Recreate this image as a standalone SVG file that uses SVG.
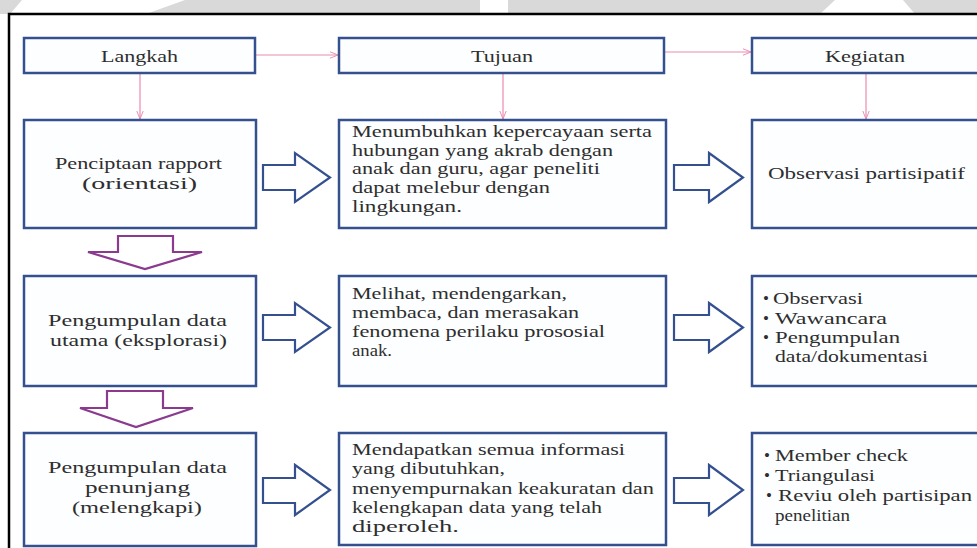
<svg xmlns="http://www.w3.org/2000/svg" width="977" height="548" viewBox="0 0 977 548">
<defs>
<style>
.box{fill:#fdfeff;stroke:#34508f;stroke-width:2.5}
.t{font-family:"Liberation Serif","Times New Roman",serif;font-size:17px;fill:#2e2e2e}
.conn{stroke:#e98ab0;stroke-width:1.2;fill:none}
.barr{fill:#ffffff;stroke:#34508f;stroke-width:2.2;stroke-linejoin:miter}
.darr{fill:#ffffff;stroke:#8b3a8e;stroke-width:2.2;stroke-linejoin:miter}
.wm{fill:#d9d9d9}
</style>
<marker id="ah" viewBox="0 0 10 10" refX="10" refY="5" markerWidth="8" markerHeight="8" orient="auto" markerUnits="userSpaceOnUse">
<path d="M0,1 L10,5 L0,9" fill="none" stroke="#e98ab0" stroke-width="1.2"/>
</marker>
</defs>
<rect x="0" y="0" width="977" height="548" fill="#ffffff"/>
<g id="watermark">
<polygon class="wm" points="0,0 22,0 10,14 0,14"/>
<polygon class="wm" points="185,0 480,0 480,14 146,14"/>
<polygon class="wm" points="508,0 835,0 820,14 508,14"/>
<polygon class="wm" points="903,0 977,0 977,14 915,14"/>
</g>
<rect x="9" y="14" width="1000" height="600" fill="#ffffff" stroke="#000000" stroke-width="2.5"/>

<g id="connectors">
<line class="conn" x1="256" y1="55" x2="338" y2="55" marker-end="url(#ah)"/>
<line class="conn" x1="665" y1="52" x2="751" y2="52" marker-end="url(#ah)"/>
<line class="conn" x1="140" y1="74" x2="140" y2="119" marker-end="url(#ah)"/>
<line class="conn" x1="503" y1="74" x2="503" y2="119" marker-end="url(#ah)"/>
<line class="conn" x1="866" y1="74" x2="866" y2="119" marker-end="url(#ah)"/>
<polygon class="barr" points="263,165 295,165 295,153 330,177.5 295,202 295,190 263,190"/>
<polygon class="barr" points="674,165 709,165 709,153 743,177.5 709,202 709,190 674,190"/>
<polygon class="barr" points="263,315 295,315 295,303 330,327.5 295,352 295,340 263,340"/>
<polygon class="barr" points="674,315 709,315 709,303 743,327.5 709,352 709,340 674,340"/>
<polygon class="barr" points="263,478 295,478 295,465 330,490 295,515 295,503 263,503"/>
<polygon class="barr" points="674,478 709,478 709,465 743,490 709,515 709,503 674,503"/>
<polygon class="darr" points="118,236 173,236 173,252 202,252 145,269 88,252 118,252"/>
<polygon class="darr" points="107,391 163,391 163,408 193,408 136,427 80,408 107,408"/>
</g>

<g id="h-langkah">
<rect class="box" x="24" y="38" width="231" height="35"/>
<text class="t" x="101" y="62" textLength="77" lengthAdjust="spacingAndGlyphs">Langkah</text>
</g>
<g id="h-tujuan">
<rect class="box" x="339" y="38" width="325" height="35"/>
<text class="t" x="471" y="62" textLength="62" lengthAdjust="spacingAndGlyphs">Tujuan</text>
</g>
<g id="h-kegiatan">
<rect class="box" x="752" y="38" width="240" height="35"/>
<text class="t" x="825" y="62" textLength="80" lengthAdjust="spacingAndGlyphs">Kegiatan</text>
</g>

<g id="r1-langkah">
<rect class="box" x="24" y="120" width="232" height="108"/>
<text class="t" x="55" y="169" textLength="167" lengthAdjust="spacingAndGlyphs">Penciptaan rapport</text>
<text class="t" x="82" y="189" textLength="115" lengthAdjust="spacingAndGlyphs">(orientasi)</text>
</g>
<g id="r1-tujuan">
<rect class="box" x="339" y="120" width="327" height="108"/>
<text class="t" x="352" y="137" textLength="300" lengthAdjust="spacingAndGlyphs">Menumbuhkan kepercayaan serta</text>
<text class="t" x="352" y="156" textLength="261" lengthAdjust="spacingAndGlyphs">hubungan yang akrab dengan</text>
<text class="t" x="352" y="174" textLength="248" lengthAdjust="spacingAndGlyphs">anak dan guru, agar peneliti</text>
<text class="t" x="352" y="193" textLength="198" lengthAdjust="spacingAndGlyphs">dapat melebur dengan</text>
<text class="t" x="352" y="212" textLength="110" lengthAdjust="spacingAndGlyphs">lingkungan.</text>
</g>
<g id="r1-kegiatan">
<rect class="box" x="752" y="120" width="240" height="108"/>
<text class="t" x="768" y="179" textLength="197" lengthAdjust="spacingAndGlyphs">Observasi partisipatif</text>
</g>

<g id="r2-langkah">
<rect class="box" x="24" y="276" width="232" height="110"/>
<text class="t" x="48" y="326" textLength="179" lengthAdjust="spacingAndGlyphs">Pengumpulan data</text>
<text class="t" x="50" y="346" textLength="177" lengthAdjust="spacingAndGlyphs">utama (eksplorasi)</text>
</g>
<g id="r2-tujuan">
<rect class="box" x="339" y="276" width="327" height="110"/>
<text class="t" x="352" y="299" textLength="215" lengthAdjust="spacingAndGlyphs">Melihat, mendengarkan,</text>
<text class="t" x="352" y="318" textLength="227" lengthAdjust="spacingAndGlyphs">membaca, dan merasakan</text>
<text class="t" x="352" y="337" textLength="253" lengthAdjust="spacingAndGlyphs">fenomena perilaku prososial</text>
<text class="t" x="352" y="356" textLength="40" lengthAdjust="spacingAndGlyphs">anak.</text>
</g>
<g id="r2-kegiatan">
<rect class="box" x="752" y="276" width="240" height="110"/>
<text class="t" x="763" y="304">•</text>
<text class="t" x="773" y="304" textLength="90" lengthAdjust="spacingAndGlyphs">Observasi</text>
<text class="t" x="763" y="324">•</text>
<text class="t" x="775" y="324" textLength="112" lengthAdjust="spacingAndGlyphs">Wawancara</text>
<text class="t" x="763" y="343">•</text>
<text class="t" x="775" y="343" textLength="125" lengthAdjust="spacingAndGlyphs">Pengumpulan</text>
<text class="t" x="775" y="362" textLength="153" lengthAdjust="spacingAndGlyphs">data/dokumentasi</text>
</g>

<g id="r3-langkah">
<rect class="box" x="24" y="433" width="232" height="113"/>
<text class="t" x="48" y="473" textLength="179" lengthAdjust="spacingAndGlyphs">Pengumpulan data</text>
<text class="t" x="85" y="493" textLength="105" lengthAdjust="spacingAndGlyphs">penunjang</text>
<text class="t" x="72" y="513" textLength="130" lengthAdjust="spacingAndGlyphs">(melengkapi)</text>
</g>
<g id="r3-tujuan">
<rect class="box" x="339" y="433" width="327" height="112"/>
<text class="t" x="352" y="455" textLength="273" lengthAdjust="spacingAndGlyphs">Mendapatkan semua informasi</text>
<text class="t" x="352" y="474" textLength="153" lengthAdjust="spacingAndGlyphs">yang dibutuhkan,</text>
<text class="t" x="352" y="494" textLength="302" lengthAdjust="spacingAndGlyphs">menyempurnakan keakuratan dan</text>
<text class="t" x="352" y="513" textLength="250" lengthAdjust="spacingAndGlyphs">kelengkapan data yang telah</text>
<text class="t" x="352" y="532" textLength="107" lengthAdjust="spacingAndGlyphs">diperoleh.</text>
</g>
<g id="r3-kegiatan">
<rect class="box" x="752" y="433" width="240" height="112"/>
<text class="t" x="764" y="461">•</text>
<text class="t" x="775" y="461" textLength="133" lengthAdjust="spacingAndGlyphs">Member check</text>
<text class="t" x="764" y="481">•</text>
<text class="t" x="775" y="481" textLength="100" lengthAdjust="spacingAndGlyphs">Triangulasi</text>
<text class="t" x="766" y="501">•</text>
<text class="t" x="778" y="501" textLength="194" lengthAdjust="spacingAndGlyphs">Reviu oleh partisipan</text>
<text class="t" x="775" y="521" textLength="75" lengthAdjust="spacingAndGlyphs">penelitian</text>
</g>
</svg>
